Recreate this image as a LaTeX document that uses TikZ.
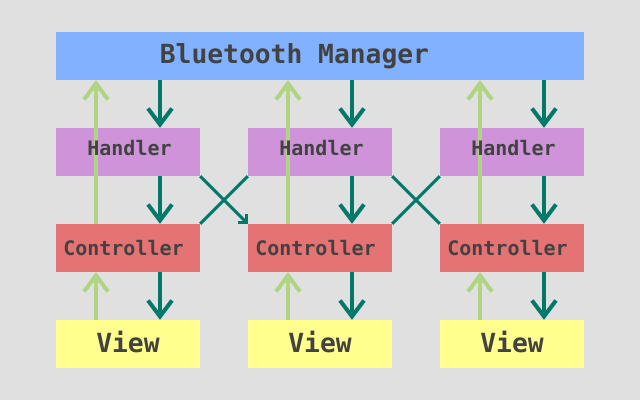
\documentclass[tikz,border=0pt]{standalone}
\usepackage{fontspec}
\setmonofont{DejaVu Sans Mono}
\usetikzlibrary{arrows.meta}
\pgfdeclarelayer{background}
\pgfdeclarelayer{middle}
\pgfsetlayers{background,middle,main}
\definecolor{bg}{HTML}{E0E0E0}
\definecolor{mgrc}{HTML}{82B1FF}
\definecolor{hndc}{HTML}{CE93D8}
\definecolor{ctlc}{HTML}{E57373}
\definecolor{viewc}{HTML}{FFFF8D}
\definecolor{teal}{HTML}{00796B}
\definecolor{lgreen}{HTML}{AED581}
\definecolor{txt}{HTML}{424242}
\tikzset{
  box/.style={rectangle, minimum width=144pt, minimum height=48pt, inner sep=0pt},
  lbl/.style={anchor=base, inner sep=0pt, text=txt, font=\ttfamily\bfseries\fontsize{20}{24}\selectfont},
  bigtext/.style={font=\ttfamily\bfseries\fontsize{26.3}{30}\selectfont},
  downarr/.style={draw=teal, line width=4pt, -{Straight Barb[length=16pt,width=24pt,line width=4pt]}},
  uparr/.style={draw=lgreen, line width=4pt, -{Straight Barb[length=16pt,width=24pt,line width=4pt]}},
  crossln/.style={draw=teal, line width=3pt},
  crossarr/.style={crossln, -{Straight Barb[length=6pt,width=12pt,line width=2.5pt]}}
}
\begin{document}
\begin{tikzpicture}[x=1pt,y=-1pt]
\useasboundingbox (0,0) rectangle (640,400);
\node[box, minimum width=528pt] (mgr) at (320,56) {};
\foreach \i/\x in {1/128,2/320,3/512}{
  \node[box] (h\i) at (\x,152) {};
  \node[box] (c\i) at (\x,248) {};
  \node[box] (v\i) at (\x,344) {};
}
\begin{pgfonlayer}{background}
  \fill[bg] (0,0) rectangle (640,400);
  \fill[mgrc] (mgr.south west) rectangle (mgr.north east);
  \foreach \i in {1,2,3}{
    \fill[hndc] (h\i.south west) rectangle (h\i.north east);
    \fill[ctlc] (c\i.south west) rectangle (c\i.north east);
    \fill[viewc] (v\i.south west) rectangle (v\i.north east);
  }
\end{pgfonlayer}
\begin{pgfonlayer}{middle}
\foreach \i in {1,2,3}{
  \draw[uparr] ([xshift=-32pt]c\i.north) -- ([xshift=-32pt]c\i.north |- mgr.south);
  \draw[uparr] ([xshift=-32pt]v\i.north) -- ([xshift=-32pt]c\i.south);
  \draw[downarr] ([xshift=32pt]h\i.north |- mgr.south) -- ([xshift=32pt]h\i.north);
  \draw[downarr] ([xshift=32pt]h\i.south) -- ([xshift=32pt]c\i.north);
  \draw[downarr] ([xshift=32pt]c\i.south) -- ([xshift=32pt]v\i.north);
}
\draw[crossarr] (h1.south east) -- (c2.north west);
\draw[crossln] (c1.north east) -- (h2.south west);
\draw[crossln] (h2.south east) -- (c3.north west);
\draw[crossln] (c2.north east) -- (h3.south west);
\end{pgfonlayer}
\node[lbl, bigtext] (mgrt) at (294.5,63) {Bluetooth Manager};
\foreach \i/\x in {1/128,2/320,3/512}{
  \node[lbl] (h\i t) at (\x+1.5,155) {Handler};
  \node[lbl] (c\i t) at (\x-4.5,255.5) {Controller};
  \node[lbl, bigtext] (v\i t) at (\x,352) {View};
}
\end{tikzpicture}
\end{document}
